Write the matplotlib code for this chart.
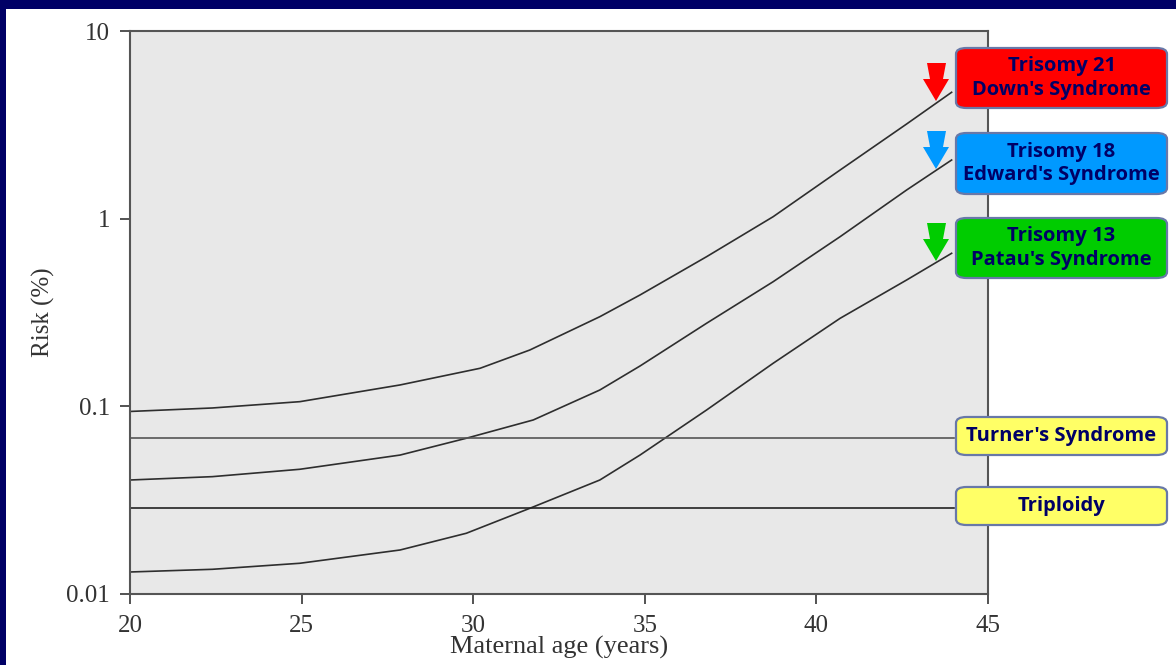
import numpy as np
import matplotlib.pyplot as plt
from matplotlib.patches import FancyBboxPatch, Polygon, Rectangle

t21_age = [20, 22.4, 24.95, 27.87, 30.2, 31.65, 33.69, 34.86, 36.8, 38.74, 40.69, 42.63, 43.94]
t21_risk = [0.0939, 0.0980, 0.1059, 0.1300, 0.1595, 0.1996, 0.3004, 0.392, 0.6271, 1.0245,
             1.816, 3.196, 4.714]
t18_age = [20, 22.4, 24.95, 27.87, 29.8, 31.75, 33.69, 34.86, 36.8, 38.74, 40.69, 42.63, 43.94]
t18_risk = [0.0405, 0.0422, 0.0462, 0.0550, 0.0676, 0.0846, 0.1222, 0.164, 0.2771, 0.4614,
            0.8015, 1.422, 2.054]
t13_age = [20, 22.4, 24.95, 27.87, 29.8, 31.65, 33.69, 34.86, 36.8, 38.74, 40.69, 42.63, 43.94]
t13_risk = [0.0131, 0.01354, 0.01458, 0.01716, 0.02107, 0.02862, 0.0405, 0.0550, 0.0956,
            0.1696, 0.2944, 0.4713, 0.6538]
flat_age = [20, 44]
turner = [0.0676, 0.0676]
triploidy = [0.0286, 0.0286]

xticks = [20, 25, 30, 35, 40, 45]
yticks = [0.01, 0.1, 1, 10]
ytick_labels = ["0.01", "0.1", "1", "10"]

W, H = 1176, 665
fig = plt.figure(figsize=(W / 100, H / 100), dpi=100)
fig.patch.set_facecolor("#000066")
# white slide area, drawn under the axes
fig.patches.append(Rectangle((6 / W, 0), 1 - 6 / W, (H - 9) / H, transform=fig.transFigure,
                             facecolor="white", edgecolor="none", zorder=0))

ax = fig.add_axes([130 / W, (H - 594) / H, (988 - 130) / W, (594 - 31) / H])
ax.set_zorder(1)
ax.set_facecolor("#e8e8e8")
ax.set_yscale("log")
ax.set_xlim(20, 45)
ax.set_ylim(0.01, 10)

line_kw = dict(color="#2e2e2e", lw=1.2, solid_joinstyle="round")
ax.plot(t21_age, t21_risk, **line_kw)
ax.plot(t18_age, t18_risk, **line_kw)
ax.plot(t13_age, t13_risk, **line_kw)
ax.plot(flat_age, turner, color="#555555", lw=1.2)
ax.plot(flat_age, triploidy, color="#222222", lw=1.2)

serif = "Liberation Serif"
ax.set_xticks(xticks)
ax.set_xticklabels([str(t) for t in xticks], fontfamily=serif, fontsize=18, color="#333333")
ax.set_yticks(yticks)
ax.set_yticklabels(ytick_labels, fontfamily=serif, fontsize=18, color="#333333")
ax.yaxis.set_minor_locator(plt.NullLocator())
ax.tick_params(direction="out", length=7, width=1.3, color="#444444", pad=7.5)
ax.tick_params(axis="x", pad=8)
for s in ax.spines.values():
    s.set_color("#555555")
    s.set_linewidth(1.5)
ax.set_xlabel("Maternal age (years)", fontfamily=serif, fontsize=19, color="#333333", labelpad=-1)
ax.set_ylabel("Risk (%)", fontfamily=serif, fontsize=18, color="#333333", labelpad=8)


def px(x, y):
    return (x / W, 1 - y / H)


# label boxes (pixel positions on the slide)
boxes = [
    ("Trisomy 21\nDown's Syndrome", "#ff0000", 48, 108),
    ("Trisomy 18\nEdward's Syndrome", "#0099ff", 133, 194),
    ("Trisomy 13\nPatau's Syndrome", "#00cc00", 218, 278),
    ("Turner's Syndrome", "#ffff66", 417, 455),
    ("Triploidy", "#ffff66", 487, 525),
]
for text, col, y0, y1 in boxes:
    x0, x1 = 956, 1167
    bx, by = px(x0, y1)
    bw, bh = (x1 - x0) / W, (y1 - y0) / H
    fig.patches.append(FancyBboxPatch((bx, by), bw, bh, boxstyle="round,pad=0,rounding_size=0.009",
                                      transform=fig.transFigure, facecolor=col,
                                      edgecolor="#6878a8", lw=1.6, zorder=5))
    fig.text(bx + bw / 2, by + bh / 2, text, ha="center", va="center", fontsize=14.5,
             fontweight="bold", color="#000066", family="Open Sans", linespacing=1.2,
             zorder=6)

# block arrows pointing at curve ends
arrows = [("#ff0000", 63), ("#0099ff", 131), ("#00cc00", 223)]
for col, top in arrows:
    pts = [(927, top), (946, top), (943, top + 16), (949, top + 16), (936, top + 38),
           (923, top + 16), (930, top + 16)]
    fig.patches.append(Polygon([px(x, y) for x, y in pts], closed=True, transform=fig.transFigure,
                               facecolor=col, edgecolor="none", zorder=4))

fig.savefig("out.png", dpi=100, facecolor=fig.get_facecolor())
